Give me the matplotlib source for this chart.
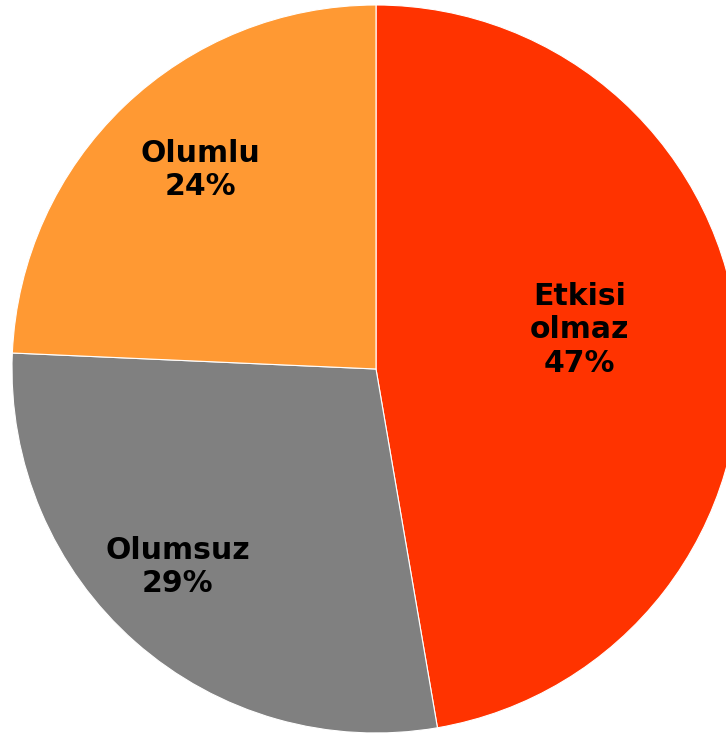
import numpy as np
import matplotlib.pyplot as plt

# dilim verileri (saat yönünde, tepeden başlayarak)
labels = ["Etkisi\nolmaz", "Olumsuz", "Olumlu"]
values = [47.3, 28.4, 24.3]
pct_text = ["47%", "29%", "24%"]
colors = ["#FF3300", "#808080", "#FF9933"]

# etiket yerleşimi: merkeze uzaklık ve açı kaydırma (derece)
lab_dist = [0.57, 0.77, 0.73]
lab_shift = [6.0, -3.6, -2.25]

fig = plt.figure(figsize=(7.26, 7.34), dpi=100)
W, H = 726, 734
cx, cy, R = 376, 369, 364   # piksel cinsinden merkez ve yarıçap
ax = fig.add_axes([(cx - R) / W, (H - cy - R) / H, 2 * R / W, 2 * R / H])

wedges, _ = ax.pie(values, colors=colors, startangle=90, counterclock=False,
                   wedgeprops=dict(edgecolor="white", linewidth=0.8))

for w, lab, pct, d, s in zip(wedges, labels, pct_text, lab_dist, lab_shift):
    ang = np.deg2rad((w.theta1 + w.theta2) / 2 + s)
    ax.text(d * np.cos(ang), d * np.sin(ang), lab + "\n" + pct,
            ha="center", va="center", fontsize=21.5, fontweight="bold",
            family="DejaVu Sans", linespacing=1.2, color="black")

ax.set_xlim(-1, 1)
ax.set_ylim(-1, 1)
ax.set_aspect("equal")
ax.axis("off")

fig.savefig("out.png", dpi=100)
